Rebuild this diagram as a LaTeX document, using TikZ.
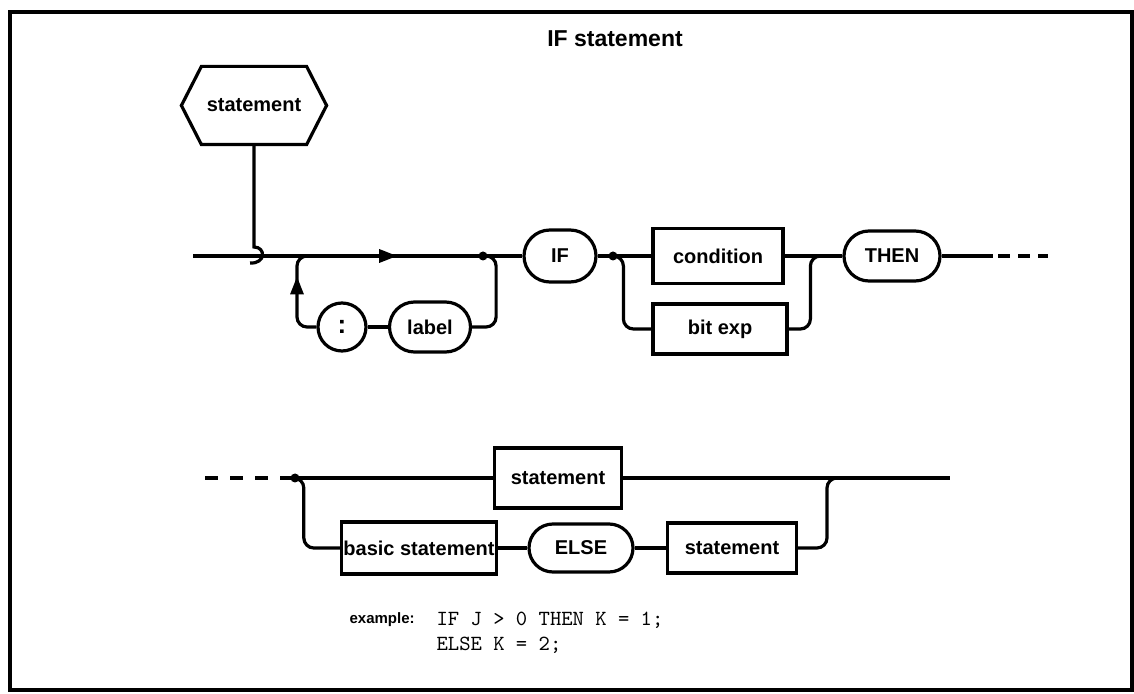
\documentclass[tikz,border=0pt]{standalone}
\usepackage{fontspec}
\setsansfont{Liberation Sans}
\usetikzlibrary{arrows.meta,shapes.misc,calc,decorations.markings}

\begin{document}
\begin{tikzpicture}[x=0.5pt,y=-0.5pt,line width=1.6pt,
  >={Triangle[length=9pt,width=6.5pt]},
  txt/.style={font=\sffamily\bfseries\fontsize{10}{12}\selectfont},
  flow/.style={line width=1.6pt,rounded corners=5pt},
  dash3/.style={dash pattern=on 6pt off 4pt},
  box/.style={draw,txt,line width=1.6pt,minimum width=#1,minimum height=26pt,inner sep=1pt},
  term/.style={box=#1,rounded rectangle},
  dot/.style={circle,fill,inner sep=0pt,minimum size=4.5pt},
  arrowat/.style={postaction={decorate,decoration={markings,mark=at position #1 with {\arrow{>}}}}},
  code/.style={anchor=base west,inner sep=0pt,font=\ttfamily\fontsize{10.8}{13}\selectfont}]
\useasboundingbox (0,0) rectangle (1134,694);
\draw[line width=2pt] (10,12) rectangle (1132,690);
% ================= title =================
\node[font=\sffamily\bfseries\fontsize{11.5}{14}\selectfont] (ttl) at (615,39) {IF statement};
% ================= first line =================
\node[txt,inner sep=0pt,minimum width=51pt,minimum height=37.5pt] (hdr) at (254,105.5) {statement};
\draw (hdr.north west) -- (hdr.north east) -- ($(hdr.east)+(20,0)$) -- (hdr.south east)
  -- (hdr.south west) -- ($(hdr.west)+(-20,0)$) -- cycle;
\coordinate (st) at (193,256);
\coordinate (hk) at (254,247);
\coordinate (lpL) at (297,256);
\node[term=38pt] (ifk) at (560,256) {IF};
\node[dot] (j1) at (483,256) {};
\node[circle,draw,txt,minimum size=24pt,inner sep=0pt,font=\sffamily\bfseries\fontsize{13}{14}\selectfont] (colon) at (342,327) {:};
\node[term=42.5pt,minimum height=25pt] (lbl) at (430,327) {label};
\draw[flow,arrowat=0.62] (st) -- (ifk.west);
\draw (hdr.south) -- (hk) .. controls ($(hk)+(12,0)$) and ($(hk)+(12,17)$) .. ($(hk)+(-4,16)$);
% label loop
\draw[flow,arrowat=0.7] (colon.west) -| (lpL) -- ++(12,0);
\draw[flow] (colon.east) -- (lbl.west);
\draw[flow] (j1.center) -| ($(lbl.east)+(24,0)$) -- (lbl.east);
% condition / bit exp
\node[dot] (j2) at (613,256) {};
\node[box=65pt,minimum height=27.5pt] (cond) at (718,256) {condition};
\node[box=67pt,minimum height=25pt] (bexp) at (720,329) {bit exp};
\node[term=50pt,minimum height=25pt] (then) at (892,256) {THEN};
\draw[flow] (ifk.east) -- (cond.west);
\draw[flow] (j2.center) -| ($(bexp.west)+(-28,0)$) -- (bexp.west);
\draw[flow] (cond.east) -- (then.west);
\draw[flow] (bexp.east) -| ($(then.west)+(-32,0)$) -- (then.west);
\coordinate (e1) at (993,256);
\coordinate (e2) at (998,256);
\coordinate (e3) at (1048,256);
\draw[flow] (then.east) -- (e1);
\draw[flow,dash3] (e2) -- (e3);
% ================= second line =================
\coordinate (b0) at (205,478);
\coordinate (b9) at (950,478);
\node[dot] (j3) at (295,478) {};
\node[box=63.5pt,minimum height=30pt] (stu) at (558,478) {statement};
\node[box=76pt] (bas) at (419,548) {basic statement};
\node[term=54pt,minimum height=24pt] (els) at (581,548) {ELSE};
\node[box=64.5pt,minimum height=25pt] (stl) at (732,548) {statement};
\draw[flow,dash pattern=on 6.5pt off 6pt] (b0) -- (j3.center);
\draw[flow] (j3.center) -- (stu.west);
\draw[flow] (j3.center) -| ($(bas.west)+(-36,0)$) -- (bas.west);
\draw[flow] (bas.east) -- (els.west);
\draw[flow] (els.east) -- (stl.west);
\draw[flow] (stu.east) -- (b9);
\draw[flow] (stl.east) -| ($(b9)+(-123,0)$) -- ++(12,0);
% ================= example =================
\node[anchor=base west,inner sep=0pt,font=\sffamily\bfseries\fontsize{7.5}{9}\selectfont] (exl) at (348,623) {example:};
\node[code] (c1) at (435,625) {IF J > 0 THEN K = 1;};
\node[code] (c2) at (435,650) {ELSE K = 2;};
\end{tikzpicture}
\end{document}
